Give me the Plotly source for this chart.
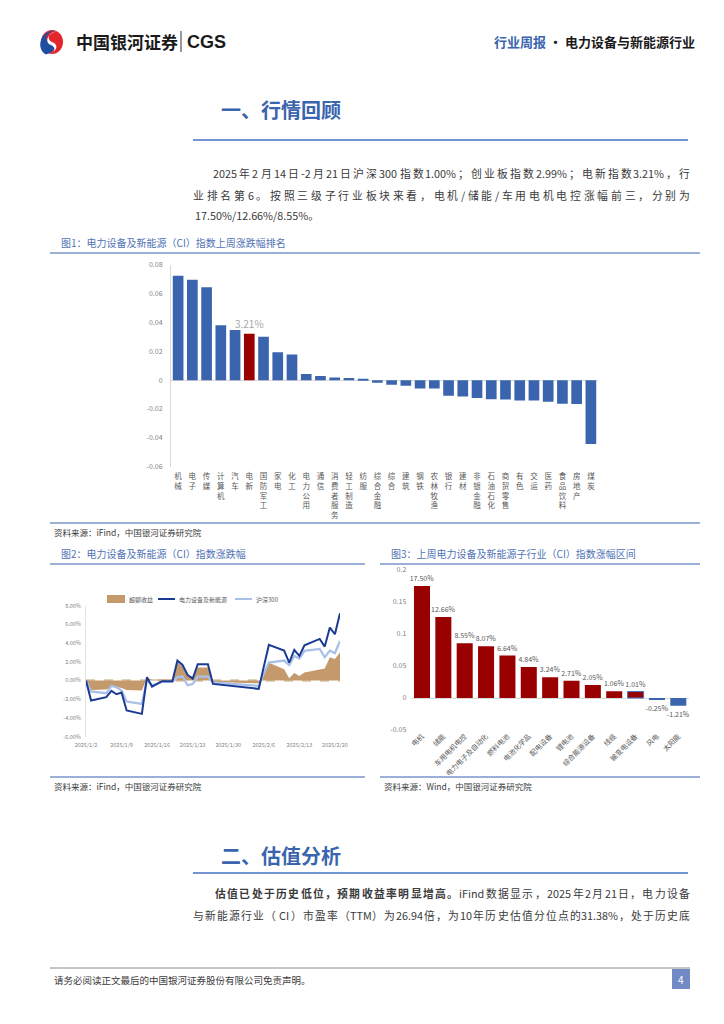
import plotly.graph_objects as go

W, H = 724, 1024
FONT = "Noto Sans CJK SC"

# ---------------- data ----------------
industries = ["机械", "电子", "传媒", "计算机", "汽车", "电新", "国防军工", "家电", "化工",
              "电力公用", "通信", "消费者服务", "轻工制造", "纺服", "综合金融", "综合", "建筑",
              "钢铁", "农林牧渔", "银行", "建材", "非银金融", "石油石化", "商贸零售", "有色",
              "交运", "医药", "食品饮料", "房地产", "煤炭"]
industry_returns = [0.0724, 0.0696, 0.0643, 0.0380, 0.0347, 0.0321, 0.0301, 0.0194, 0.0178,
                    0.0042, 0.0028, 0.0019, 0.0014, 0.0007, -0.0018, -0.0032, -0.0039,
                    -0.0058, -0.0058, -0.0109, -0.0113, -0.0123, -0.0132, -0.0134, -0.0141,
                    -0.0141, -0.0150, -0.0164, -0.0166, -0.0442]
highlight_industry = "电新"
highlight_label = "3.21%"

trade_dates = ["2025-01-02", "2025-01-03", "2025-01-06", "2025-01-07", "2025-01-08",
               "2025-01-09", "2025-01-10", "2025-01-13", "2025-01-14", "2025-01-15",
               "2025-01-17", "2025-01-19", "2025-01-20", "2025-01-21", "2025-01-22",
               "2025-01-23", "2025-01-24", "2025-01-26", "2025-01-27", "2025-02-05",
               "2025-02-06", "2025-02-07", "2025-02-10", "2025-02-11", "2025-02-12",
               "2025-02-13", "2025-02-14", "2025-02-17", "2025-02-18", "2025-02-19",
               "2025-02-20", "2025-02-21"]
excess_return = [0.0, -1.0, -0.95, -0.65, -0.7, -0.8, -1.0, -1.05, 0.3, 0.1, 0.1, 0.15,
                 2.0, 1.5, 0.6, 0.4, 1.4, 1.4, -0.15, -0.3, 1.0, 1.9, 1.2, 0.25, 0.8, 0.5,
                 0.85, 1.2, 1.3, 2.5, 2.3, 3.0]
index_return = [0.00, -2.14, -1.78, -1.10, -1.46, -1.28, -3.20, -3.56, 0.36, -0.64, -0.07,
                -0.07, 2.14, 1.67, 0.60, 0.21, 1.74, 1.74, -0.36, -0.89, 1.49, 3.81, 3.20,
                1.92, 3.27, 2.63, 3.77, 4.45, 3.63, 5.66, 4.95, 7.19]
hs300_return = [0.00, -1.17, -1.35, -0.57, -0.71, -1.07, -2.24, -2.49, 0.07, -0.50, -0.14,
                -0.14, 0.36, 0.43, -0.50, -0.36, 0.43, 0.43, -0.21, -0.57, 0.78, 1.92, 2.14,
                1.67, 2.63, 2.35, 3.17, 3.38, 2.49, 3.20, 2.92, 4.23]
series_names = ["超额收益", "电力设备及新能源", "沪深300"]

sub_industries = ["电机", "储能", "车用电机电控", "电力电子及自动化", "燃料电池", "电池化学品",
                  "配电设备", "锂电池", "综合能源设备", "线缆", "输变电设备", "风电", "太阳能"]
sub_returns = [0.1750, 0.1266, 0.0855, 0.0807, 0.0664, 0.0484, 0.0324, 0.0271, 0.0205,
               0.0106, 0.0101, -0.0025, -0.0121]

fig1_yticks = [0.08, 0.06, 0.04, 0.02, 0, -0.02, -0.04, -0.06]
fig1_yticktext = ["0.08", "0.06", "0.04", "0.02", "0", "-0.02", "-0.04", "-0.06"]
fig2_yticks = [8, 6, 4, 2, 0, -2, -4, -6]
fig2_yticktext = ["8.00%", "6.00%", "4.00%", "2.00%", "0.00%", "-2.00%", "-4.00%", "-6.00%"]
fig2_xticks = ["2025-01-02", "2025-01-09", "2025-01-16", "2025-01-23", "2025-01-30",
               "2025-02-06", "2025-02-13", "2025-02-20"]
fig2_xticktext = ["2025/1/2", "2025/1/9", "2025/1/16", "2025/1/23", "2025/1/30",
                  "2025/2/6", "2025/2/13", "2025/2/20"]
fig3_yticks = [0.2, 0.15, 0.1, 0.05, 0, -0.05]
fig3_yticktext = ["0.2", "0.15", "0.1", "0.05", "0", "-0.05"]

# ---------------- helpers ----------------
def py(y):
    return 1 - y / H

def px(x):
    return x / W

BLUE = "#3A64AD"
RED = "#990000"
TITLE_BLUE = "#4F72B5"
FRAME = "#9AB0D6"
TXT = "#3a3a3a"
TICK = "#7f7f7f"
BROWN = "#C49A6C"
DARK_LINE = "#1B3A93"
LIGHT_LINE = "#A9C0E8"

fig = go.Figure()

# Figure 1 bars
fig.add_trace(go.Bar(
    x=industries, y=industry_returns, xaxis="x", yaxis="y",
    marker=dict(color=[RED if n == highlight_industry else BLUE for n in industries], line=dict(width=0)),
    text=[highlight_label if n == highlight_industry else "" for n in industries],
    textposition="outside", textfont=dict(size=10, color="#a6a6a6", family=FONT),
    constraintext="none", cliponaxis=False, showlegend=False, hoverinfo="skip"))

# Figure 2
fig.add_trace(go.Scatter(
    x=trade_dates, y=excess_return, xaxis="x2", yaxis="y2", mode="lines",
    fill="tozeroy", fillcolor=BROWN, line=dict(width=0, color=BROWN),
    name=series_names[0], showlegend=False))
fig.add_trace(go.Scatter(
    x=trade_dates, y=hs300_return, xaxis="x2", yaxis="y2", mode="lines",
    line=dict(width=2.3, color=LIGHT_LINE), name=series_names[2], showlegend=False))
fig.add_trace(go.Scatter(
    x=trade_dates, y=index_return, xaxis="x2", yaxis="y2", mode="lines",
    line=dict(width=2, color=DARK_LINE), name=series_names[1], showlegend=False))

# Figure 3
fig.add_trace(go.Bar(
    x=sub_industries, y=sub_returns, xaxis="x3", yaxis="y3",
    marker=dict(color=[RED if v >= 0 else BLUE for v in sub_returns],
                line=dict(width=[0] * 10 + [1] + [0, 0], color="#4472C4")),
    text=["%.2f%%" % (v * 100) for v in sub_returns], textposition="outside",
    textfont=dict(size=7, color="#595959", family=FONT),
    constraintext="none", cliponaxis=False, showlegend=False, hoverinfo="skip"))

tickfont = dict(size=7, color=TICK, family=FONT)

layout = dict(
    width=W, height=H, margin=dict(l=0, r=0, t=0, b=0, pad=0, autoexpand=False),
    paper_bgcolor="white", plot_bgcolor="rgba(0,0,0,0)",
    font=dict(family=FONT, color=TXT),
    bargap=0.25, showlegend=False,
    xaxis=dict(domain=[px(171), px(598)], anchor="y", type="category",
               tickvals=industries, ticktext=["<br>".join(list(n)) for n in industries],
               tickfont=dict(size=7.5, color="#595959", family=FONT), tickangle=0,
               showgrid=False, showline=False, ticks="", zeroline=False, automargin=False,
               ticklabelstandoff=4),
    yaxis=dict(domain=[py(466.7), py(264.7)], anchor="x", range=[-0.06, 0.08],
               tickvals=fig1_yticks, ticktext=fig1_yticktext, tickfont=tickfont,
               showgrid=False, showline=True, linecolor="#d9d9d9", linewidth=1,
               zeroline=True, zerolinecolor="#d9d9d9", zerolinewidth=1, ticks="",
               ticklabelstandoff=6, automargin=False),
    xaxis2=dict(domain=[px(86), px(340)], anchor="y2", type="date",
                range=["2025-01-02", "2025-02-21"], tickvals=fig2_xticks, ticktext=fig2_xticktext,
                tickfont=dict(size=5.5, color=TICK, family=FONT), showgrid=False, showline=False,
                ticks="", zeroline=False, automargin=False, ticklabelstandoff=4),
    yaxis2=dict(domain=[py(736.7), py(605.7)], anchor="x2", range=[-6, 8],
                tickvals=fig2_yticks, ticktext=fig2_yticktext,
                tickfont=dict(size=5.5, color=TICK, family=FONT),
                showgrid=False, showline=True, linecolor="#e3e3e3", zeroline=False, ticks="",
                ticklabelstandoff=3, automargin=False),
    xaxis3=dict(domain=[px(411.3), px(689)], anchor="y3", type="category", tickangle=-45,
                tickfont=dict(size=7, color="#595959", family=FONT), showgrid=False,
                showline=False, ticks="", zeroline=False, automargin=False),
    yaxis3=dict(domain=[py(730), py(570)], anchor="x3", range=[-0.05, 0.2],
                tickvals=fig3_yticks, ticktext=fig3_yticktext, tickfont=tickfont,
                showgrid=False, showline=False, zeroline=True, zerolinecolor="#d9d9d9",
                zerolinewidth=1, ticks="", ticklabelstandoff=4, automargin=False),
    xaxis4=dict(domain=[0, 1], range=[0, W], visible=False, fixedrange=True),
    yaxis4=dict(domain=[0, 1], range=[H, 0], visible=False, fixedrange=True, anchor="x4"),
)
fig.update_layout(**layout)

shapes = []
annotations = []

def line(x0, y0, x1, y1, color, width, dash="solid"):
    shapes.append(dict(type="line", xref="x4", yref="y4", x0=x0, y0=y0, x1=x1, y1=y1,
                       line=dict(color=color, width=width, dash=dash)))

def text(x, y, s, size, color=TXT, anchor="left", bold=False, family=FONT):
    annotations.append(dict(xref="x4", yref="y4", x=x, y=y, text=("<b>%s</b>" % s) if bold else s,
                            showarrow=False, xanchor=anchor, yanchor="middle",
                            font=dict(size=size, color=color, family=family)))

ASCII_W = {".": 0.27, "%": 0.85, "/": 0.36, "-": 0.33, "(": 0.33, ")": 0.33, "i": 0.26,
           "F": 0.57, "n": 0.6, "d": 0.61}

def tok_width(tok, size):
    if ord(tok[0]) > 0x2E80:
        return size
    return sum(ASCII_W.get(c, 0.56 if c.isdigit() else 0.6) for c in tok) * size

def tokenize(s, bold):
    toks, cur = [], ""
    for c in s:
        if c == " ":
            if cur:
                toks.append((cur, bold))
                cur = ""
        elif ord(c) > 0x2E80:
            if cur:
                toks.append((cur, bold))
                cur = ""
            toks.append((c, bold))
        else:
            cur += c
    if cur:
        toks.append((cur, bold))
    return toks

def justify(segments, x0, x1, y, size, color=TXT):
    if isinstance(segments, str):
        segments = [(segments, False)]
    toks = []
    for s, b in segments:
        toks += tokenize(s, b)
    widths = [tok_width(t, size) for t, _ in toks]
    gap = (x1 - x0 - sum(widths)) / (len(toks) - 1)
    x = x0
    for (t, b), w in zip(toks, widths):
        annotations.append(dict(xref="x4", yref="y4", x=x + w / 2, y=y,
                                text=("<b>%s</b>" % t) if b else t, showarrow=False,
                                xanchor="center", yanchor="middle",
                                font=dict(size=size, color=color, family=FONT)))
        x += w + gap

# zero dashed line for fig2
shapes.append(dict(type="line", xref="x2 domain", yref="y2", x0=0, x1=1, y0=0, y1=0,
                   line=dict(color="#D8C3A5", width=2.5, dash="dash"), layer="below"))

# fig2 legend (drawn by hand)
shapes.append(dict(type="rect", xref="x4", yref="y4", x0=107, y0=595, x1=125, y1=603,
                   fillcolor=BROWN, line=dict(width=0)))
text(127, 599, series_names[0], 6, "#595959")
line(158, 599, 175, 599, DARK_LINE, 2)
text(177, 599, series_names[1], 6, "#595959")
line(235, 599, 252, 599, LIGHT_LINE, 2)
text(254, 599, series_names[2], 6, "#595959")

# logo
shapes.append(dict(type="circle", xref="x4", yref="y4", x0=41, y0=30, x1=63, y1=54,
                   fillcolor="#E3262D", line=dict(width=0)))
shapes.append(dict(type="path", xref="x4", yref="y4",
                   path="M 56 30.5 C 45 32 44 41 51 43 C 57 45 57 51 46 54.5 "
                        "C 41 52 39 46 41 40 C 43 34 49 30 56 30.5 Z",
                   fillcolor="#1F4E9E", line=dict(width=0)))
shapes.append(dict(type="path", xref="x4", yref="y4",
                   path="M 57 31 C 47 33 47 40 52 42 C 58 44 59 50 48 55 "
                        "C 56 52 56 47 51 45 C 45 43 46 34 57 31 Z",
                   fillcolor="white", line=dict(width=0)))
text(74, 41, "中国银河证券", 17, "#1a1a1a", bold=True)
line(181, 31, 181, 52, "#333333", 1)
text(185, 41.5, "CGS", 18, "#1a1a1a", bold=True, family="Liberation Sans")
text(697, 41, "<span style='color:#3A64AD'>行业周报</span> · 电力设备与新能源行业", 13, "#1a1a1a",
     anchor="right", bold=True)

# section 1
text(219, 109, "一、行情回顾", 20, BLUE, bold=True)
line(193, 140, 688, 140, "#4472C4", 1.5)
justify("2025 年 2 月 14 日-2 月 21 日沪深 300 指数 1.00%；创业板指数 2.99%；电新指数 3.21%，行",
        213, 690, 173, 10.8)
justify("业排名第 6。按照三级子行业板块来看，电机/储能/车用电机电控涨幅前三，分别为",
        193, 690, 195, 10.8)
text(193, 215, "17.50%/12.66%/8.55%。", 10.8)

# fig1 frame
text(59, 242, "图1：电力设备及新能源（CI）指数上周涨跌幅排名", 10, TITLE_BLUE)
line(50, 253, 700, 253, FRAME, 2)
line(50, 523, 700, 523, FRAME, 2)
text(52, 532, "资料来源：iFind，中国银河证券研究院", 8.5, TXT)

# fig2/fig3 frames
text(59, 553, "图2：电力设备及新能源（CI）指数涨跌幅", 10, TITLE_BLUE)
line(50, 564, 365, 564, FRAME, 2)
line(50, 777, 365, 777, FRAME, 2)
text(52, 786, "资料来源：iFind，中国银河证券研究院", 8.5, TXT)
text(389, 553, "图3：上周电力设备及新能源子行业（CI）指数涨幅区间", 10, TITLE_BLUE)
line(380, 564, 700, 564, FRAME, 2)
line(380, 777, 700, 777, FRAME, 2)
text(382, 786, "资料来源：Wind，中国银河证券研究院", 8.5, TXT)

# section 2
text(219, 855, "二、估值分析", 20, BLUE, bold=True)
line(193, 873, 688, 873, "#4472C4", 1.5)
justify([("估值已处于历史低位，预期收益率明显增高。", True),
         ("iFind 数据显示，2025 年 2 月 21 日，电力设备", False)], 215, 690, 893, 10.8)
justify("与新能源行业（CI）市盈率（TTM）为 26.94 倍，为 10 年历史估值分位点的 31.38%，处于历史底",
        193, 690, 915, 10.8)

# footer
line(50, 968, 690, 968, "#8c8c8c", 1)
text(52, 980, "请务必阅读正文最后的中国银河证券股份有限公司免责声明。", 9.5, TXT)
shapes.append(dict(type="rect", xref="x4", yref="y4", x0=672, y0=969, x1=690, y1=989,
                   fillcolor="#7189C4", line=dict(width=0)))
text(681, 979, "4", 10, "white", anchor="center")

fig.update_layout(shapes=shapes, annotations=annotations)
fig.write_html("out.html", config={"displayModeBar": False},
               post_script="document.body.style.margin='0';document.body.style.padding='0';")
